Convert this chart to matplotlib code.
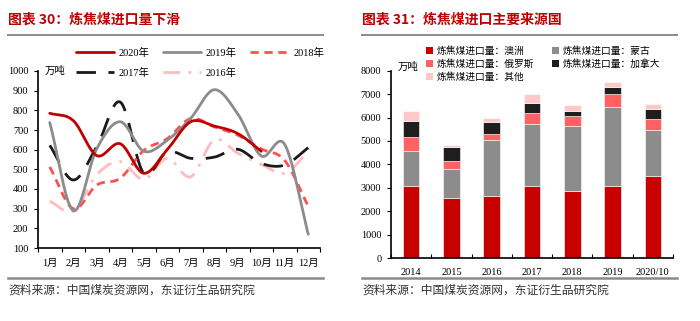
import numpy as np
import matplotlib
matplotlib.use("Agg")
import matplotlib.pyplot as plt
from matplotlib.lines import Line2D
from matplotlib.patches import Patch

plt.rcParams['font.family'] = ['Liberation Serif', 'Noto Sans CJK SC']
CJK = ['Noto Sans CJK SC', 'DejaVu Sans']
MIX = ['Liberation Serif', 'Noto Sans CJK SC']

# monthly coking coal imports (万吨)
months = ['1月', '2月', '3月', '4月', '5月', '6月', '7月', '8月', '9月', '10月', '11月', '12月']
imp_2020 = [785, 748, 570, 630, 480, 600, 742, 720, 682, 592]
imp_2019 = [738, 290, 605, 742, 592, 648, 760, 905, 782, 568, 626, 170]
imp_2018 = [512, 300, 420, 455, 596, 656, 758, 716, 674, 604, 545, 312]
imp_2017 = [622, 446, 615, 842, 480, 590, 556, 562, 602, 530, 522, 610]
imp_2016 = [338, 288, 472, 540, 448, 556, 462, 650, 582, 526, 480, 590]

# imports by source country (万吨)
years = ['2014', '2015', '2016', '2017', '2018', '2019', '2020/10']
australia = [3100, 2575, 2650, 3075, 2860, 3075, 3500]
mongolia = [1460, 1240, 2385, 2645, 2775, 3385, 1965]
russia = [590, 340, 245, 455, 440, 540, 480]
canada = [710, 600, 510, 425, 215, 300, 430]
others = [430, 70, 170, 400, 240, 200, 185]


def smooth(y, n=24):
    """Catmull-Rom curve through the monthly points."""
    y = np.asarray(y, dtype=float)
    x = np.arange(len(y), dtype=float)
    p = np.concatenate([[2 * y[0] - y[1]], y, [2 * y[-1] - y[-2]]])
    xs, ys = [], []
    for i in range(len(y) - 1):
        p0, p1, p2, p3 = p[i], p[i + 1], p[i + 2], p[i + 3]
        t = np.linspace(0, 1, n, endpoint=(i == len(y) - 2))
        yy = 0.5 * ((2 * p1) + (-p0 + p2) * t + (2 * p0 - 5 * p1 + 4 * p2 - p3) * t ** 2
                    + (-p0 + 3 * p1 - 3 * p2 + p3) * t ** 3)
        xs.append(x[i] + t)
        ys.append(yy)
    return np.concatenate(xs), np.concatenate(ys)


fig = plt.figure(figsize=(7.0, 3.21), dpi=100)
title_red = '#c00000'
rule_gray = '#8a8a8a'

# headers and footers for both panels
for x0, title in [(8, '图表 30：炼焦煤进口量下滑'), (362, '图表 31：炼焦煤进口主要来源国')]:
    fig.text(x0 / 700, 1 - 20 / 321, title, family=CJK, fontsize=10, fontweight='bold',
             color=title_red, va='center', ha='left')
    fig.add_artist(Line2D([x0 / 700, (x0 + 315) / 700], [1 - 35 / 321] * 2,
                          color=rule_gray, lw=1.4))
    fig.add_artist(Line2D([x0 / 700, (x0 + 315) / 700], [1 - 278 / 321] * 2,
                          color=rule_gray, lw=1.8))
    fig.text(x0 / 700, 1 - 290 / 321, '资料来源：中国煤炭资源网，东证衍生品研究院', family=CJK,
             fontsize=8.5, color='#333333', va='center', ha='left')

# ---- left: monthly lines ----
ax1 = fig.add_axes([38 / 700, 1 - 248 / 321, 282 / 700, 177 / 321])
series = [
    ('2020年', imp_2020, '#c00000', '-'),
    ('2019年', imp_2019, '#8c8c8c', '-'),
    ('2018年', imp_2018, '#ff5050', (0, (3, 2))),
    ('2017年', imp_2017, '#1a1a1a', (0, (7, 4.5))),
    ('2016年', imp_2016, '#ffbcbc', (0, (6, 3, 1, 3))),
]
handles = {}
for name, vals, color, ls in reversed(series):
    xs, ys = smooth(vals)
    h, = ax1.plot(xs, ys, color=color, lw=2.0, ls=ls, solid_capstyle='round')
    handles[name] = h

ax1.set_xlim(-0.5, 11.5)
ax1.set_ylim(100, 1000)
ax1.set_yticks(range(100, 1001, 100))
ax1.set_xticks(range(12))
ax1.set_xticklabels(months, family=MIX, fontsize=7.5)
ax1.set_xticks(np.arange(-0.5, 12, 1), minor=True)
ax1.tick_params(axis='x', which='major', length=0, pad=8)
ax1.tick_params(axis='x', which='minor', length=3, direction='out', width=0.8)
ax1.tick_params(axis='y', length=3, width=0.8, labelsize=7.5, pad=4)
for s in ['top', 'right']:
    ax1.spines[s].set_visible(False)
for s in ['left', 'bottom']:
    ax1.spines[s].set_linewidth(1.2)
fig.text(45 / 700, 1 - 71 / 321, '万吨', family=CJK, fontsize=7.5, va='center', ha='left')

order = ['2020年', '2017年', '2019年', '2016年', '2018年']
fig.legend([handles[k] for k in order], order, ncol=3, frameon=False,
           loc='upper left', bbox_to_anchor=(76 / 700, 1 - 48 / 321),
           prop={'family': MIX, 'size': 7.5}, handlelength=3.6, handletextpad=0.5,
           columnspacing=1.3, labelspacing=0.95, borderaxespad=0, borderpad=0)

# ---- right: stacked bars by source ----
ax2 = fig.add_axes([391 / 700, 1 - 258.3 / 321, 282 / 700, 187.7 / 321])
x = np.arange(len(years))
stack = [
    ('炼焦煤进口量：澳洲', australia, '#c80000'),
    ('炼焦煤进口量：蒙古', mongolia, '#8c8c8c'),
    ('炼焦煤进口量：俄罗斯', russia, '#ff6262'),
    ('炼焦煤进口量：加拿大', canada, '#1e1e1e'),
    ('炼焦煤进口量：其他', others, '#ffc8c8'),
]
bottom = np.zeros(len(years))
patches = {}
for name, vals, color in stack:
    ax2.bar(x, vals, bottom=bottom, width=0.41, color=color, edgecolor='white', linewidth=0.4)
    patches[name] = Patch(facecolor=color)
    bottom += np.asarray(vals)

ax2.set_xlim(-0.5, len(years) - 0.5)
ax2.set_ylim(0, 8000)
ax2.set_yticks(range(0, 8001, 1000))
ax2.set_xticks(x)
ax2.set_xticklabels(years, fontsize=7.5)
ax2.set_xticks(np.arange(-0.5, len(years), 1), minor=True)
ax2.tick_params(axis='x', which='major', length=0, pad=7)
ax2.tick_params(axis='x', which='minor', length=3, direction='in', width=0.8)
ax2.tick_params(axis='y', length=3, width=0.8, labelsize=7.5, pad=4)
for s in ['top', 'right']:
    ax2.spines[s].set_visible(False)
for s in ['left', 'bottom']:
    ax2.spines[s].set_linewidth(1.2)
fig.text(398 / 700, 1 - 67 / 321, '万吨', family=CJK, fontsize=7.5, va='center', ha='left')

lorder = ['炼焦煤进口量：澳洲', '炼焦煤进口量：俄罗斯', '炼焦煤进口量：其他',
          '炼焦煤进口量：蒙古', '炼焦煤进口量：加拿大']
fig.legend([patches[k] for k in lorder], lorder, ncol=2, frameon=False,
           loc='upper left', bbox_to_anchor=(426 / 700, 1 - 46 / 321),
           prop={'family': CJK, 'size': 7.0}, handlelength=0.75, handleheight=0.75,
           handletextpad=0.35, columnspacing=1.8, labelspacing=0.3,
           borderaxespad=0, borderpad=0)

fig.savefig('out.png', dpi=100)
